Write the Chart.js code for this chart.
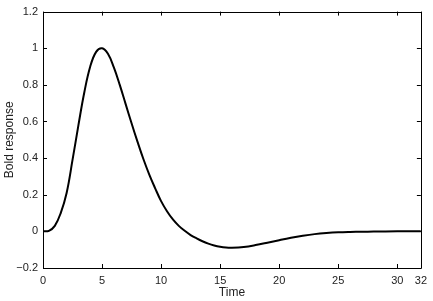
<!DOCTYPE html>
<html>
<head>
<meta charset="utf-8">
<script src="https://cdn.jsdelivr.net/npm/chart.js@4/dist/chart.umd.min.js"></script>
<style>
  html, body { margin: 0; padding: 0; background: #fff; }
  #wrap { width: 433px; height: 301px; }
</style>
</head>
<body>
<div id="wrap"><canvas id="c" width="433" height="301"></canvas></div>
<script>
// Data
const times = [0, 0.5, 1, 1.5, 2, 2.5, 3, 3.5, 4, 4.5, 5, 5.5, 6, 6.5, 7, 7.5, 8, 8.5, 9, 9.5, 10, 10.5, 11, 11.5, 12, 12.5, 13, 13.5, 14, 14.5, 15, 15.5, 16, 17, 18, 19, 20, 21, 22, 23, 24, 25, 26, 27, 28, 30, 32];
const response = [0, 0.003, 0.03, 0.1, 0.21, 0.39, 0.58, 0.76, 0.9, 0.98, 1.0, 0.97, 0.895, 0.8, 0.695, 0.59, 0.49, 0.395, 0.31, 0.235, 0.165, 0.11, 0.065, 0.03, 0.003, -0.02, -0.038, -0.054, -0.067, -0.077, -0.084, -0.088, -0.089, -0.085, -0.075, -0.062, -0.048, -0.035, -0.024, -0.015, -0.009, -0.005, -0.003, -0.002, -0.001, 0, 0];
const xTicks = [0, 5, 10, 15, 20, 25, 30, 32];
const yTicks = [-0.2, 0, 0.2, 0.4, 0.6, 0.8, 1, 1.2];
const xTitle = 'Time';
const yTitle = 'Bold response';

const points = times.map((t, i) => ({ x: t, y: response[i] }));
const FONT = { family: 'Liberation Sans, Arial, Helvetica, sans-serif', size: 11 };
const TFONT = { family: 'Liberation Sans, Arial, Helvetica, sans-serif', size: 12 };
const TXT = '#222';

const boxTicks = {
  id: 'boxTicks',
  afterDraw(chart) {
    const { ctx, chartArea: a, scales } = chart;
    const L = 4;
    ctx.save();
    ctx.strokeStyle = '#000';
    ctx.lineWidth = 1;
    ctx.beginPath();
    ctx.rect(Math.round(a.left) + 0.5, Math.round(a.top) + 0.5, Math.round(a.right - a.left), Math.round(a.bottom - a.top));
    ctx.stroke();
    ctx.beginPath();
    scales.x.ticks.forEach(t => {
      const px = Math.round(scales.x.getPixelForValue(t.value)) + 0.5;
      ctx.moveTo(px, a.bottom); ctx.lineTo(px, a.bottom - L);
      ctx.moveTo(px, a.top); ctx.lineTo(px, a.top + L);
    });
    scales.y.ticks.forEach(t => {
      const py = Math.round(scales.y.getPixelForValue(t.value)) + 0.5;
      ctx.moveTo(a.left, py); ctx.lineTo(a.left + L, py);
      ctx.moveTo(a.right, py); ctx.lineTo(a.right - L, py);
    });
    ctx.stroke();
    ctx.restore();
  }
};

new Chart(document.getElementById('c'), {
  type: 'scatter',
  data: {
    datasets: [{
      data: points,
      showLine: true,
      borderColor: '#000',
      borderWidth: 2,
      pointRadius: 0,
      tension: 0.4,
      fill: false
    }]
  },
  options: {
    responsive: false,
    animation: false,
    events: [],
    layout: { padding: { top: 8, right: 10, bottom: 0, left: 0 } },
    plugins: { legend: { display: false }, tooltip: { enabled: false } },
    scales: {
      x: {
        type: 'linear',
        min: 0, max: 32,
        afterBuildTicks: s => { s.ticks = xTicks.map(v => ({ value: v })); },
        afterFit: s => { s.height = 33; },
        grid: { display: false, drawTicks: false },
        border: { display: false },
        ticks: { font: FONT, color: TXT, padding: 6, maxRotation: 0, autoSkip: false, callback: v => String(v) },
        title: { display: true, text: xTitle, font: TFONT, color: TXT, padding: { top: 0, bottom: 1 } }
      },
      y: {
        type: 'linear',
        min: -0.2, max: 1.2,
        afterBuildTicks: s => { s.ticks = yTicks.map(v => ({ value: v })); },
        afterFit: s => { s.width = 43; },
        grid: { display: false, drawTicks: false },
        border: { display: false },
        ticks: {
          font: FONT, color: TXT, padding: 5, autoSkip: false,
          callback: v => { const r = Math.round(v * 10) / 10; return (r < 0 ? '\u2212' : '') + String(Math.abs(r)); }
        },
        title: { display: true, text: yTitle, font: TFONT, color: TXT, padding: { top: 2, bottom: 0 } }
      }
    }
  },
  plugins: [boxTicks]
});
</script>
</body>
</html>
